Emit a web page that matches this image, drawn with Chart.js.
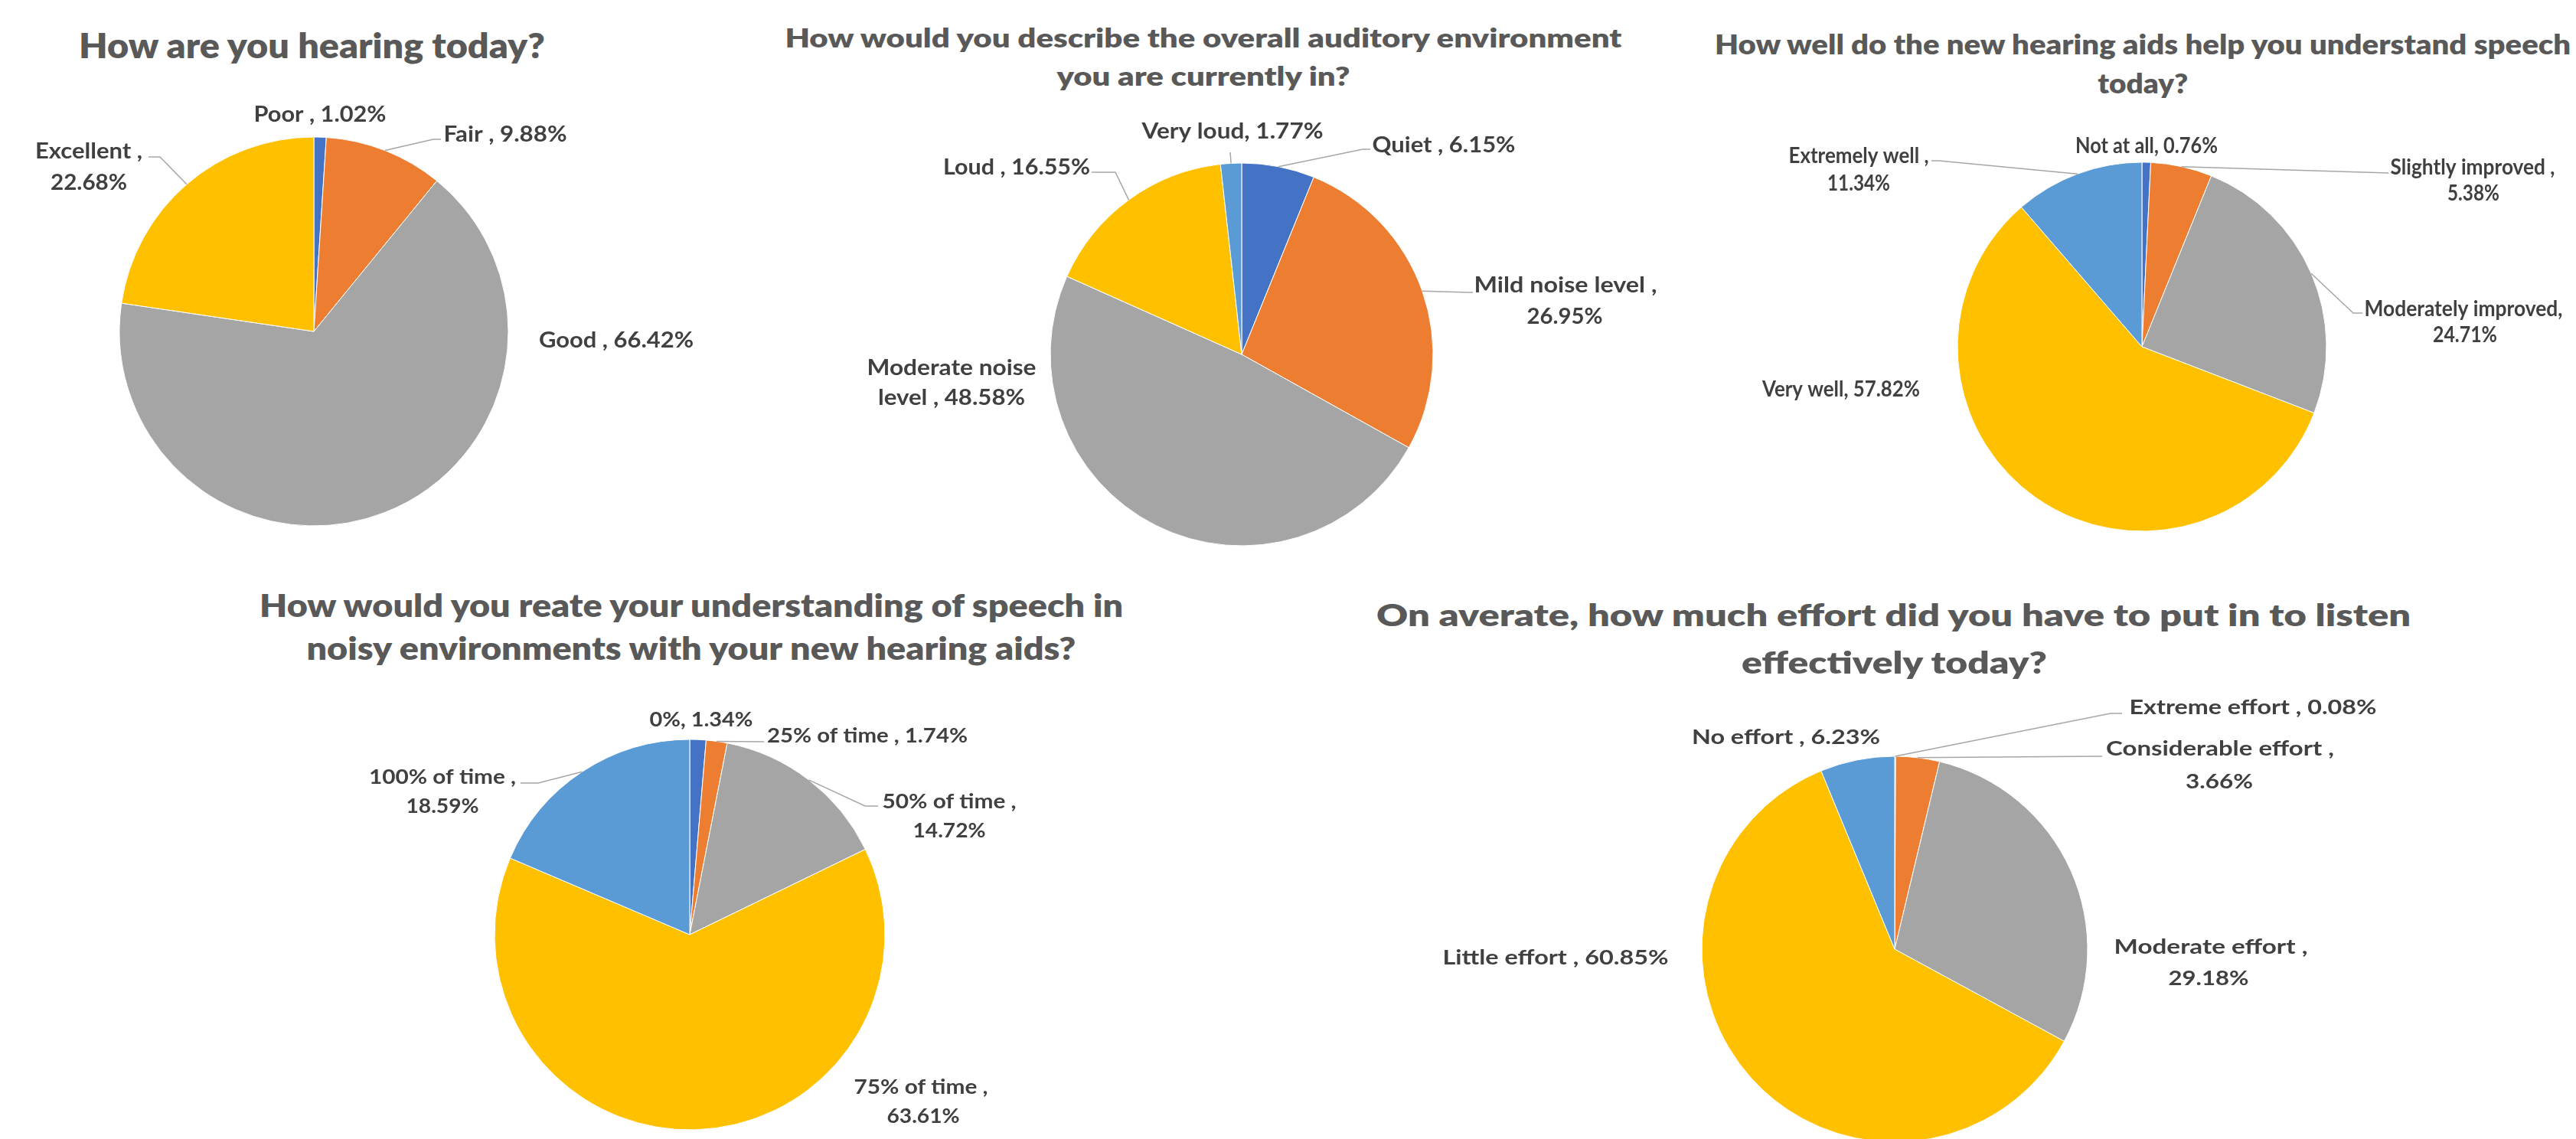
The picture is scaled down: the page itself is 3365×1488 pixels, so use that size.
<!DOCTYPE html>
<html>
<head>
<meta charset="utf-8">
<script src="https://cdn.jsdelivr.net/npm/chart.js@4.4.0/dist/chart.umd.min.js"></script>
<style>
html,body{margin:0;padding:0;background:#ffffff;}
body{width:3365px;height:1488px;overflow:hidden;position:relative;}
canvas{position:absolute;}
.t{position:absolute;white-space:nowrap;font-family:Lato,"Open Sans",sans-serif;font-weight:800;color:#595959;line-height:1;transform-origin:center center;}
</style>
</head>
<body>
<script>
// ---------------- DATA ----------------
const hearingCats = ['Poor ', 'Fair ', 'Good ', 'Excellent '];
const hearingVals = [1.02, 9.88, 66.42, 22.68];

const environmentCats = ['Quiet ', 'Mild noise level ', 'Moderate noise level ', 'Loud ', 'Very loud'];
const environmentVals = [6.15, 26.95, 48.58, 16.55, 1.77];

const speechCats = ['Not at all', 'Slightly improved ', 'Moderately improved', 'Very well', 'Extremely well '];
const speechVals = [0.76, 5.38, 24.71, 57.82, 11.34];

const noiseCats = ['0%', '25% of time ', '50% of time ', '75% of time ', '100% of time '];
const noiseVals = [1.34, 1.74, 14.72, 63.61, 18.59];

const effortCats = ['Extreme effort ', 'Considerable effort ', 'Moderate effort ', 'Little effort ', 'No effort '];
const effortVals = [0.08, 3.66, 29.18, 60.85, 6.23];

const titleHearing = ['How are you hearing today?'];
const titleEnvironment = ['How would you describe the overall auditory environment', 'you are currently in?'];
const titleSpeech = ['How well do the new hearing aids help you understand speech', 'today?'];
const titleNoise = ['How would you reate your understanding of speech in', 'noisy environments with your new hearing aids?'];
const titleEffort = ['On averate, how much effort did you have to put in to listen', 'effectively today?'];

// ---------------- STYLE / LAYOUT ----------------
const palette = ['#4472C4', '#ED7D31', '#A5A5A5', '#FFC000', '#5B9BD5'];
const FONT = 'Lato, "Open Sans", sans-serif';
const LABEL_COLOR = '#404040';
const LEADER_COLOR = '#A6A6A6';

// label layout: per slice -> lines [centerX, centerY, width] (page px), optional break token, leader path
const pies = [
  { cats: hearingCats, vals: hearingVals,
    box: {l: 0, t: 120, w: 1000, h: 620}, c: [410, 433], r: 254, fs: 29,
    labels: [
      {lines: [[418, 149, 173]]},
      {lines: [[660, 175, 161]], leader: [[566, 182], [576, 182]]},
      {lines: [[805, 444, 202]]},
      {brk: ',', lines: [[116, 197, 140], [116, 238, 100]], leader: [[209, 205], [194, 205]]}
    ]},
  { cats: environmentCats, vals: environmentVals,
    box: {l: 1100, t: 140, w: 1100, h: 600}, c: [1622, 463], r: 250, fs: 29,
    labels: [
      {lines: [[1886, 189, 187]], leader: [[1780, 195], [1790, 195]]},
      {brk: ',', lines: [[2045, 372, 239], [2044, 413, 99]], leader: [[1918, 382], [1924, 382]]},
      {brk: 'noise', lines: [[1243, 480, 221], [1243, 519, 192]]},
      {lines: [[1328, 218, 192]], leader: [[1457, 225], [1426, 225]]},
      {lines: [[1610, 171, 237]], leader: [[1607, 199]]}
    ]},
  { cats: speechCats, vals: speechVals,
    box: {l: 2140, t: 150, w: 1225, h: 600}, c: [2798, 453], r: 241, fs: 28,
    labels: [
      {lines: [[2804, 190, 186]]},
      {brk: ',', lines: [[3230, 218, 215], [3231, 252, 68]], leader: [[3120, 226]]},
      {brk: ',', lines: [[3218, 403, 259], [3220, 437, 84]], leader: [[3074, 409], [3086, 409]]},
      {lines: [[2405, 508, 206]]},
      {brk: ',', lines: [[2428, 203, 183], [2428, 239, 82]], leader: [[2533, 210], [2523, 210]]}
    ]},
  { cats: noiseCats, vals: noiseVals,
    box: {l: 420, t: 900, w: 950, h: 588}, c: [901, 1221], r: 255, fs: 26,
    labels: [
      {lines: [[916, 940, 135]]},
      {lines: [[1133, 961, 262]], leader: [[998, 969]]},
      {brk: ',', lines: [[1240, 1047, 175], [1240, 1085, 95]], leader: [[1130, 1053], [1147, 1053]]},
      {brk: ',', lines: [[1203, 1420, 175], [1206, 1458, 95]]},
      {brk: ',', lines: [[578, 1015, 192], [578, 1053, 95]], leader: [[703, 1023], [680, 1023]]}
    ]},
  { cats: effortCats, vals: effortVals,
    box: {l: 1850, t: 880, w: 1300, h: 620}, c: [2475, 1240], r: 252, fs: 27,
    labels: [
      {lines: [[2943, 923, 323]], leader: [[2757, 932], [2772, 932]]},
      {brk: ',', lines: [[2900, 977, 298], [2899, 1020, 88]], leader: [[2746, 988]]},
      {brk: ',', lines: [[2888, 1236, 253], [2885, 1277, 105]]},
      {lines: [[2032, 1250, 295]]},
      {lines: [[2333, 962, 246]]}
    ]}
];

const titleSpecs = [
  {lines: titleHearing, cx: 407, base: [76], size: 45, widths: [609]},
  {lines: titleEnvironment, cx: 1572, base: [62, 112], size: 33, widths: [1093, 383]},
  {lines: titleSpeech, cx: 2799, base: [71, 122], size: 35, widths: [1118, 118]},
  {lines: titleNoise, cx: 903, base: [806, 862], size: 42, widths: [1128, 1005]},
  {lines: titleEffort, cx: 2474, base: [818, 880], size: 40, widths: [1351, 399]}
];

// ---------------- DRAWING ----------------
function drawFitted(ctx, text, cx, cy, w, size) {
  ctx.font = `700 ${size}px ${FONT}`;
  const m = ctx.measureText(text).width || 1;
  const sx = w ? w / m : 1;
  ctx.save();
  ctx.translate(cx, cy + size * 0.36);
  ctx.scale(sx, 1);
  ctx.textAlign = 'center';
  ctx.textBaseline = 'alphabetic';
  ctx.fillStyle = LABEL_COLOR;
  ctx.fillText(text, 0, 0);
  ctx.restore();
}

function labelText(cat, val) {
  return cat + ', ' + val.toFixed(2) + '%';
}

function splitLabel(text, brk) {
  if (!brk) return [text];
  const k = text.indexOf(brk) + brk.length;
  return [text.slice(0, k).trim(), text.slice(k).trim()];
}

function makeLabelPlugin(spec) {
  return {
    id: 'pieLabels',
    afterDatasetsDraw(chart) {
      const ctx = chart.ctx;
      const ox = spec.box.l, oy = spec.box.t;
      const arcs = chart.getDatasetMeta(0).data;
      const ds = chart.data.datasets[0].data;
      const cats = chart.data.labels;
      arcs.forEach((arc, i) => {
        const lay = spec.labels[i];
        if (!lay) return;
        const p = arc.getProps(['x', 'y', 'startAngle', 'endAngle', 'outerRadius'], true);
        const mid = (p.startAngle + p.endAngle) / 2;
        if (lay.leader) {
          ctx.save();
          ctx.strokeStyle = LEADER_COLOR;
          ctx.lineWidth = 1.5;
          ctx.beginPath();
          ctx.moveTo(p.x + Math.cos(mid) * p.outerRadius, p.y + Math.sin(mid) * p.outerRadius);
          lay.leader.forEach(pt => ctx.lineTo(pt[0] - ox, pt[1] - oy));
          ctx.stroke();
          ctx.restore();
        }
        const lines = splitLabel(labelText(cats[i], ds[i]), lay.brk);
        lines.forEach((ln, j) => {
          const L = lay.lines[j];
          drawFitted(ctx, ln, L[0] - ox, L[1] - oy, L[2], spec.fs);
        });
      });
    }
  };
}

pies.forEach(spec => {
  const cv = document.createElement('canvas');
  cv.width = spec.box.w; cv.height = spec.box.h;
  cv.style.left = spec.box.l + 'px'; cv.style.top = spec.box.t + 'px';
  cv.style.width = spec.box.w + 'px'; cv.style.height = spec.box.h + 'px';
  document.body.appendChild(cv);
  const bw = 1;
  const side = 2 * spec.r + bw;
  const pl = spec.c[0] - spec.r - bw / 2 - spec.box.l;
  const pt = spec.c[1] - spec.r - bw / 2 - spec.box.t;
  new Chart(cv, {
    type: 'pie',
    data: {
      labels: spec.cats,
      datasets: [{
        data: spec.vals,
        backgroundColor: palette.slice(0, spec.vals.length),
        borderColor: '#ffffff',
        borderWidth: bw
      }]
    },
    options: {
      responsive: false,
      maintainAspectRatio: false,
      animation: false,
      events: [],
      radius: spec.r,
      layout: {padding: {left: pl, top: pt, right: spec.box.w - pl - side, bottom: spec.box.h - pt - side}},
      plugins: {legend: {display: false}, tooltip: {enabled: false}, title: {display: false}}
    },
    plugins: [makeLabelPlugin(spec)]
  });
});

// titles as HTML text
titleSpecs.forEach(t => t.lines.forEach((line, i) => {
  const el = document.createElement('div');
  el.className = 't';
  el.style.fontSize = t.size + 'px';
  el.textContent = line;
  const mk = document.createElement('span');
  mk.style.cssText = 'display:inline-block;width:0;height:0;vertical-align:baseline;';
  el.appendChild(mk);
  el.style.left = '0px'; el.style.top = '0px';
  document.body.appendChild(el);
  const r = el.getBoundingClientRect();
  const baseOff = mk.getBoundingClientRect().top - r.top;
  const sx = t.widths[i] / r.width;
  el.style.left = (t.cx - r.width / 2) + 'px';
  el.style.top = (t.base[i] - baseOff) + 'px';
  el.style.transform = 'scaleX(' + sx.toFixed(4) + ')';
}));
</script>
</body>
</html>
